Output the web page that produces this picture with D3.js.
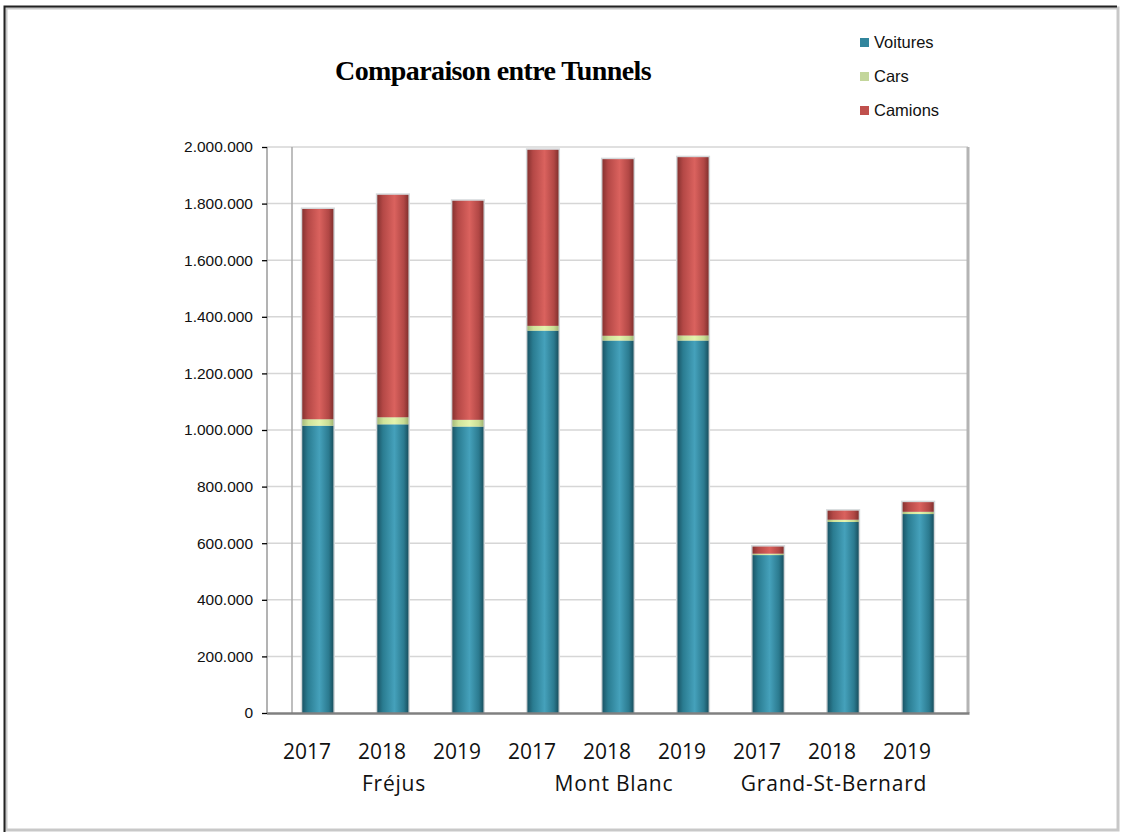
<!DOCTYPE html>
<html><head><meta charset="utf-8">
<script src="https://cdn.jsdelivr.net/npm/d3@7"></script>
<style>body{margin:0;background:#fff}svg{display:block}</style>
</head><body>
<svg id="chart" width="1122" height="834"></svg>
<script>
const tunnels = ["Fréjus", "Mont Blanc", "Grand-St-Bernard"];
const years = ["2017", "2018", "2019"];
const categories = ["Fréjus 2017","Fréjus 2018","Fréjus 2019","Mont Blanc 2017","Mont Blanc 2018","Mont Blanc 2019","Grand-St-Bernard 2017","Grand-St-Bernard 2018","Grand-St-Bernard 2019"];
const seriesNames = ["Voitures", "Cars", "Camions"];
const voitures = [1015000, 1020000, 1012000, 1351000, 1316000, 1316000, 558000, 675000, 703000];
const cars     = [23000, 25000, 24000, 17000, 17000, 18000, 5000, 8000, 8000];
const camions  = [743000, 786000, 774000, 622000, 624000, 630000, 25000, 32000, 34000];
const yTicks = [0, 200000, 400000, 600000, 800000, 1000000, 1200000, 1400000, 1600000, 1800000, 2000000];

const svg = d3.select("#chart");
const defs = svg.append("defs");

// outer frame
svg.append("rect").attr("x",6).attr("y",8).attr("width",1112).attr("height",822)
  .attr("fill","none").attr("stroke","#c8c8c8").attr("stroke-width",3);
svg.append("path").attr("d","M4.5,832 V6.5 H1117").attr("fill","none").attr("stroke","#222").attr("stroke-width",2);

const plot = {left:267, right:968, top:147, bottom:713};
const y = d3.scaleLinear().domain([0, 2000000]).range([plot.bottom, plot.top]);
const xBar = d3.scaleBand().domain(categories).range([280.5, 955.5]).paddingInner(0.585).paddingOuter(0.29);
const xLab = d3.scaleBand().domain(categories).range([269.5, 944.5]);
const xGroup = d3.scaleBand().domain(tunnels).range([284, 944]);

// gridlines
svg.append("g").selectAll("line").data(yTicks.slice(1)).join("line")
  .attr("x1", plot.left).attr("x2", plot.right)
  .attr("y1", d => y(d)).attr("y2", d => y(d))
  .attr("stroke", "#d6d6d6").attr("stroke-width", 1.5);

// back wall line and plot borders
svg.append("line").attr("x1",292).attr("x2",292).attr("y1",plot.top).attr("y2",plot.bottom).attr("stroke","#a8a8a8").attr("stroke-width",1.5);
svg.append("line").attr("x1",plot.right).attr("x2",plot.right).attr("y1",plot.top).attr("y2",plot.bottom).attr("stroke","#b4b4b4").attr("stroke-width",3);

// gradients
function grad(id, stops){
  const g = defs.append("linearGradient").attr("id", id).attr("x1","0").attr("x2","1").attr("y1","0").attr("y2","0");
  stops.forEach(s => g.append("stop").attr("offset", s[0]).attr("stop-color", s[1]));
}
grad("gV", [[0,"#1a5566"],[0.18,"#2a7c91"],[0.55,"#45a1bb"],[0.85,"#2b7a8f"],[1,"#19505f"]]);
grad("gC", [[0,"#a7bb7a"],[0.2,"#cfe39a"],[0.55,"#e4f4ae"],[0.85,"#c8dc94"],[1,"#a2b574"]]);
grad("gK", [[0,"#873230"],[0.18,"#b44846"],[0.55,"#da625e"],[0.85,"#b14745"],[1,"#82302e"]]);
const fills = {Voitures:"url(#gV)", Cars:"url(#gC)", Camions:"url(#gK)"};

const table = categories.map((c,i) => ({cat:c, Voitures:voitures[i], Cars:cars[i], Camions:camions[i]}));
const stacked = d3.stack().keys(seriesNames)(table);

// bar halo
svg.append("g").selectAll("rect").data(table).join("rect")
  .attr("x", d => xBar(d.cat) - 1.5).attr("width", xBar.bandwidth() + 3)
  .attr("y", d => y(d.Voitures + d.Cars + d.Camions) - 1.5)
  .attr("height", d => y(0) - y(d.Voitures + d.Cars + d.Camions) + 1.5)
  .attr("fill", "#d4d8da");

svg.append("g").selectAll("g").data(stacked).join("g")
  .attr("fill", d => fills[d.key])
  .selectAll("rect").data(d => d).join("rect")
  .attr("x", d => xBar(d.data.cat)).attr("width", xBar.bandwidth())
  .attr("y", d => y(d[1])).attr("height", d => y(d[0]) - y(d[1]));

// axes lines
svg.append("line").attr("x1",plot.left).attr("x2",plot.left).attr("y1",plot.top).attr("y2",plot.bottom).attr("stroke","#9a9a9a").attr("stroke-width",1.5);
svg.append("line").attr("x1",plot.left).attr("x2",plot.right+1.5).attr("y1",plot.bottom+0.5).attr("y2",plot.bottom+0.5).attr("stroke","#808080").attr("stroke-width",2.5);

// y axis
const fmt = v => d3.format(",")(v).replace(/,/g, ".");
const yAxis = d3.axisLeft(y).tickValues(yTicks).tickFormat(fmt).tickSize(5).tickPadding(9);
const ya = svg.append("g").attr("transform", `translate(${plot.left},0)`).call(yAxis);
ya.select(".domain").remove();
ya.selectAll(".tick line").attr("stroke","#000").attr("stroke-width",1.3);
ya.selectAll("text").attr("font-family","'Liberation Sans', Arial, sans-serif").attr("font-size","15.5px").attr("fill","#111");

// x labels
const xl = svg.append("g").attr("font-family","'Open Sans', sans-serif").attr("font-size","21px").attr("fill","#111").attr("text-anchor","middle");
xl.selectAll("text.yr").data(categories).join("text").attr("class","yr")
  .attr("x", d => xLab(d) + xLab.bandwidth()/2).attr("y", 759)
  .text((d,i) => years[i % 3]);
xl.selectAll("text.tn").data(tunnels).join("text").attr("class","tn")
  .attr("x", d => xGroup(d) + xGroup.bandwidth()/2).attr("y", 791)
  .attr("letter-spacing","0.8px")
  .text(d => d);

// title
svg.append("text").attr("x", 493).attr("y", 80).attr("text-anchor","middle")
  .attr("font-family","'Liberation Serif', 'Times New Roman', serif").attr("font-weight","bold")
  .attr("font-size","28px").attr("letter-spacing","-0.6px").attr("fill","#000")
  .text("Comparaison entre Tunnels");

// legend
const legColors = {Voitures:"#31859c", Cars:"#c3d69b", Camions:"#c0504d"};
const lg = svg.append("g").selectAll("g").data(seriesNames).join("g")
  .attr("transform", (d,i) => `translate(860,${38 + i*34})`);
lg.append("rect").attr("width",9).attr("height",9).attr("fill", d => legColors[d]);
lg.append("text").attr("x",14).attr("y",10).attr("font-family","'Liberation Sans', Arial, sans-serif")
  .attr("font-size","16.5px").attr("fill","#111").text(d => d);
</script>
</body></html>
